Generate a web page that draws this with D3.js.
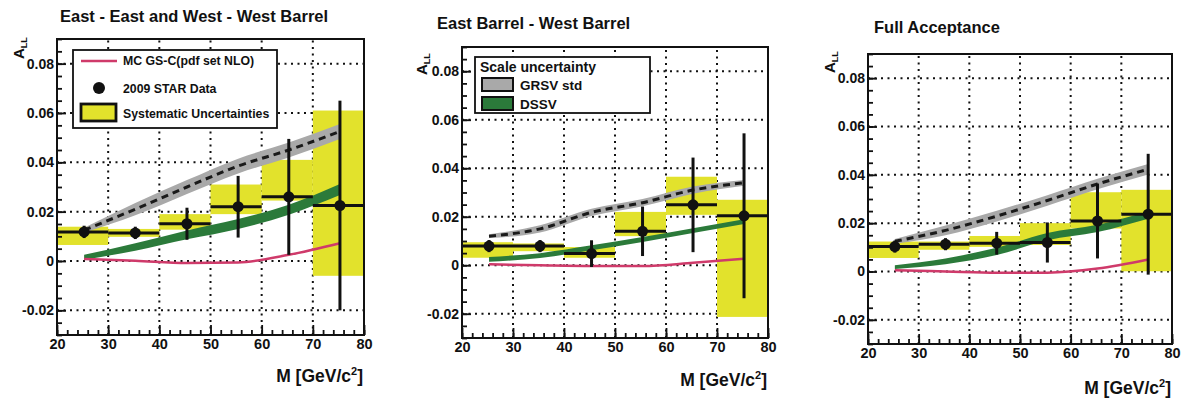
<!DOCTYPE html>
<html>
<head>
<meta charset="utf-8">
<script src="https://cdn.jsdelivr.net/npm/d3@7"></script>
<style>
  html, body { margin: 0; padding: 0; background: #fff; }
  svg { display: block; font-family: "Liberation Sans", Arial, Helvetica, sans-serif; font-weight: bold; }
</style>
</head>
<body>
<svg id="chart" width="1185" height="400"></svg>
<script>
// ---- mass bins (GeV/c^2) ----
const binLow  = [20, 30, 40, 50, 60, 70];
const binHigh = [30, 40, 50, 60, 70, 80];
const massPoints = [25.3, 35.3, 45.4, 55.4, 65.3, 75.3];

// ---- axis ticks ----
const xTicks = [20, 30, 40, 50, 60, 70, 80];
const xGrid = [30, 40, 50, 60, 70];
const yTicks = [-0.02, 0, 0.02, 0.04, 0.06, 0.08];
const yTickLabels = ["-0.02", "0", "0.02", "0.04", "0.06", "0.08"];
const yGrid = [-0.02, 0, 0.02, 0.04, 0.06, 0.08];

// ---- East-East and West-West barrel ----
const eewwAll = [0.0118, 0.0114, 0.0151, 0.0220, 0.0260, 0.0225];
const eewwStat = [0.0025, 0.0025, 0.0065, 0.0125, 0.0235, 0.0425];
const eewwSysLo = [0.0065, 0.0098, 0.0127, 0.0190, 0.0245, -0.0060];
const eewwSysHi = [0.0139, 0.0130, 0.0190, 0.0310, 0.0410, 0.0610];
const eewwGrsv = [0.0125, 0.0210, 0.0300, 0.0385, 0.0450, 0.0525];
const eewwGrsvUnc = [0.0010, 0.0025, 0.0028, 0.0030, 0.0030, 0.0030];
const eewwDssv = [0.0015, 0.0057, 0.0106, 0.0150, 0.0208, 0.0290];
const eewwDssvUnc = [0.0010, 0.0015, 0.0018, 0.0020, 0.0020, 0.0022];
const eewwMc = [0.0008, 0.0001, -0.0008, -0.0006, 0.0025, 0.0072];

// ---- East barrel - West barrel ----
const ewAll = [0.0079, 0.0079, 0.0048, 0.0140, 0.0249, 0.0204];
const ewStat = [0.0025, 0.0025, 0.0055, 0.0102, 0.0195, 0.0340];
const ewSysLo = [0.0031, 0.0058, 0.0031, 0.0120, 0.0208, -0.0213];
const ewSysHi = [0.0095, 0.0090, 0.0075, 0.0220, 0.0365, 0.0270];
const ewGrsv = [0.0120, 0.0150, 0.0218, 0.0258, 0.0310, 0.0340];
const ewGrsvUnc = [0.0008, 0.0015, 0.0015, 0.0015, 0.0015, 0.0012];
const ewDssv = [0.0024, 0.0040, 0.0072, 0.0106, 0.0143, 0.0180];
const ewDssvUnc = [0.0010, 0.0010, 0.0010, 0.0010, 0.0010, 0.0010];
const ewMc = [0.0004, 0.0000, -0.0003, -0.0003, 0.0010, 0.0027];

// ---- Full acceptance ----
const fullAll = [0.0103, 0.0113, 0.0117, 0.0120, 0.0209, 0.0237];
const fullStat = [0.0025, 0.0025, 0.0047, 0.0083, 0.0155, 0.0250];
const fullSysLo = [0.0056, 0.0090, 0.0102, 0.0110, 0.0178, 0.0001];
const fullSysHi = [0.0124, 0.0124, 0.0147, 0.0200, 0.0328, 0.0338];
const fullGrsv = [0.0125, 0.0170, 0.0229, 0.0294, 0.0362, 0.0423];
const fullGrsvUnc = [0.0010, 0.0020, 0.0022, 0.0022, 0.0022, 0.0022];
const fullDssv = [0.0018, 0.0042, 0.0083, 0.0144, 0.0178, 0.0233];
const fullDssvUnc = [0.0008, 0.0012, 0.0015, 0.0015, 0.0015, 0.0015];
const fullMc = [0.0005, 0.0000, -0.0005, -0.0005, 0.0012, 0.0050];

// ---- colours ----
const colSys = "#e2e22c";
const colGrsv = "#a9a9a9";
const colDssv = "#2b7a3a";
const colMc = "#cf3a6a";

const panels = [
  { title: "East - East and West - West Barrel", titleX: 60, titleY: 22,
    box: { l: 57, r: 364, t: 39, b: 335 }, allY: 59, allX: 24,
    data: { a: eewwAll, stat: eewwStat, lo: eewwSysLo, hi: eewwSysHi,
            grsv: eewwGrsv, grsvU: eewwGrsvUnc, dssv: eewwDssv, dssvU: eewwDssvUnc, mc: eewwMc },
    legend: "data" },
  { title: "East Barrel - West Barrel", titleX: 437, titleY: 29,
    box: { l: 462, r: 768, t: 47, b: 338 }, allY: 75, allX: 427,
    data: { a: ewAll, stat: ewStat, lo: ewSysLo, hi: ewSysHi,
            grsv: ewGrsv, grsvU: ewGrsvUnc, dssv: ewDssv, dssvU: ewDssvUnc, mc: ewMc },
    legend: "theory" },
  { title: "Full Acceptance", titleX: 874, titleY: 33,
    box: { l: 868, r: 1172, t: 54, b: 344 }, allY: 73, allX: 835,
    data: { a: fullAll, stat: fullStat, lo: fullSysLo, hi: fullSysHi,
            grsv: fullGrsv, grsvU: fullGrsvUnc, dssv: fullDssv, dssvU: fullDssvUnc, mc: fullMc },
    legend: null }
];

const svg = d3.select("#chart");
const labelFont = "Liberation Sans, Arial, sans-serif";

panels.forEach(p => {
  const g = svg.append("g");
  const x = d3.scaleLinear().domain([20, 80]).range([p.box.l, p.box.r]);
  const y = d3.scaleLinear().domain([-0.03, 0.09]).range([p.box.b, p.box.t]);
  const d = p.data;
  const idx = d3.range(massPoints.length);

  // title
  g.append("text").attr("x", p.titleX).attr("y", p.titleY)
    .attr("font-size", 16.5).attr("fill", "#111").text(p.title);

  // dotted grid
  const grid = g.append("g").attr("stroke", "#111").attr("stroke-width", 2)
    .attr("stroke-dasharray", "2,4.5");
  grid.selectAll("line.gx").data(xGrid).join("line")
    .attr("x1", v => x(v)).attr("x2", v => x(v))
    .attr("y1", p.box.b).attr("y2", p.box.t);
  grid.selectAll("line.gy").data(yGrid).join("line")
    .attr("x1", p.box.l).attr("x2", p.box.r)
    .attr("y1", v => y(v)).attr("y2", v => y(v));

  // systematic uncertainty boxes
  g.append("g").selectAll("rect").data(idx).join("rect")
    .attr("x", i => x(binLow[i])).attr("width", i => x(binHigh[i]) - x(binLow[i]))
    .attr("y", i => y(d.hi[i])).attr("height", i => y(d.lo[i]) - y(d.hi[i]))
    .attr("fill", colSys);

  // theory bands
  const band = (c, u) => d3.area().curve(d3.curveMonotoneX)
    .x(i => x(massPoints[i])).y0(i => y(c[i] - u[i])).y1(i => y(c[i] + u[i]));
  const line = c => d3.line().curve(d3.curveMonotoneX)
    .x(i => x(massPoints[i])).y(i => y(c[i]));

  g.append("path").attr("d", band(d.grsv, d.grsvU)(idx)).attr("fill", colGrsv);
  g.append("path").attr("d", line(d.grsv)(idx)).attr("fill", "none")
    .attr("stroke", "#1a1a1a").attr("stroke-width", 3).attr("stroke-dasharray", "7,5");
  g.append("path").attr("d", band(d.dssv, d.dssvU)(idx)).attr("fill", colDssv);
  g.append("path").attr("d", line(d.mc)(idx)).attr("fill", "none")
    .attr("stroke", colMc).attr("stroke-width", 2.5);

  // data: horizontal bin bars, vertical stat bars, markers
  const pts = g.append("g").attr("stroke", "#111").attr("stroke-width", 3);
  pts.selectAll("line.h").data(idx).join("line")
    .attr("x1", i => x(binLow[i])).attr("x2", i => x(binHigh[i]))
    .attr("y1", i => y(d.a[i])).attr("y2", i => y(d.a[i]));
  pts.selectAll("line.v").data(idx).join("line")
    .attr("x1", i => x(massPoints[i])).attr("x2", i => x(massPoints[i]))
    .attr("y1", i => y(d.a[i] - d.stat[i])).attr("y2", i => y(d.a[i] + d.stat[i]));
  g.append("g").selectAll("circle").data(idx).join("circle")
    .attr("cx", i => x(massPoints[i])).attr("cy", i => y(d.a[i]))
    .attr("r", 5.5).attr("fill", "#111");

  // axes with inward ticks
  const yMinor = d3.range(-0.03, 0.0901, 0.005).map(v => +v.toFixed(3));
  const xMinor = d3.range(20, 80.1, 2);
  g.append("g").attr("transform", `translate(${p.box.l},0)`)
    .call(d3.axisLeft(y).tickValues(yMinor).tickSize(-5).tickFormat(""))
    .call(a => a.select(".domain").remove())
    .call(a => a.selectAll("line").attr("stroke", "#111").attr("stroke-width", 1.8));
  g.append("g").attr("transform", `translate(${p.box.l},0)`)
    .call(d3.axisLeft(y).tickValues(yTicks).tickSize(-9).tickPadding(3)
      .tickFormat((v, i) => yTickLabels[i]))
    .call(a => a.select(".domain").remove())
    .call(a => a.selectAll("line").attr("stroke", "#111").attr("stroke-width", 1.8))
    .call(a => a.selectAll("text").attr("font-size", 14).attr("font-weight", "bold")
      .attr("fill", "#111").attr("font-family", labelFont));
  g.append("g").attr("transform", `translate(0,${p.box.b})`)
    .call(d3.axisBottom(x).tickValues(xMinor).tickSize(-5).tickFormat(""))
    .call(a => a.select(".domain").remove())
    .call(a => a.selectAll("line").attr("stroke", "#111").attr("stroke-width", 1.8));
  g.append("g").attr("transform", `translate(0,${p.box.b})`)
    .call(d3.axisBottom(x).tickValues(xTicks).tickSize(-10).tickPadding(4).tickFormat(d3.format("d")))
    .call(a => a.select(".domain").remove())
    .call(a => a.selectAll("line").attr("stroke", "#111").attr("stroke-width", 1.8))
    .call(a => a.selectAll("text").attr("font-size", 14.5).attr("font-weight", "bold")
      .attr("fill", "#111").attr("font-family", labelFont));

  // legends
  if (p.legend === "data") {
    const L = g.append("g");
    L.append("rect").attr("x", 73).attr("y", 50).attr("width", 204).attr("height", 78)
      .attr("fill", "#fff").attr("stroke", "#111").attr("stroke-width", 1.8);
    L.append("line").attr("x1", 81).attr("x2", 117).attr("y1", 61).attr("y2", 61)
      .attr("stroke", colMc).attr("stroke-width", 2.5);
    L.append("circle").attr("cx", 99).attr("cy", 88).attr("r", 6).attr("fill", "#111");
    L.append("rect").attr("x", 81).attr("y", 104).attr("width", 35).attr("height", 17)
      .attr("fill", colSys).attr("stroke", "#111").attr("stroke-width", 2.8);
    const lt = [["MC GS-C(pdf set NLO)", 65], ["2009 STAR Data", 92.5], ["Systematic Uncertainties", 117.5]];
    lt.forEach(([t, yy]) => L.append("text").attr("x", 123).attr("y", yy)
      .attr("font-size", 12.3).attr("fill", "#111").text(t));
  } else if (p.legend === "theory") {
    const L = g.append("g");
    L.append("rect").attr("x", 475).attr("y", 57).attr("width", 175).attr("height", 56)
      .attr("fill", "#fff").attr("stroke", "#111").attr("stroke-width", 1.8);
    L.append("text").attr("x", 480).attr("y", 72).attr("font-size", 14)
      .attr("fill", "#111").text("Scale uncertainty");
    L.append("rect").attr("x", 482).attr("y", 78).attr("width", 31).attr("height", 13)
      .attr("fill", colGrsv).attr("stroke", "#111").attr("stroke-width", 2);
    L.append("rect").attr("x", 482).attr("y", 97).attr("width", 31).attr("height", 13)
      .attr("fill", colDssv).attr("stroke", "#111").attr("stroke-width", 2);
    L.append("text").attr("x", 520).attr("y", 90).attr("font-size", 13.5)
      .attr("fill", "#111").text("GRSV std");
    L.append("text").attr("x", 520).attr("y", 109).attr("font-size", 13.5)
      .attr("fill", "#111").text("DSSV");
  }

  // frame
  g.append("rect").attr("x", p.box.l).attr("y", p.box.t)
    .attr("width", p.box.r - p.box.l).attr("height", p.box.b - p.box.t)
    .attr("fill", "none").attr("stroke", "#111").attr("stroke-width", 2);

  // axis titles
  const at = g.append("text").attr("transform", `translate(${p.allX},${p.allY}) rotate(-90)`)
    .attr("font-size", 15).attr("fill", "#111");
  at.append("tspan").text("A");
  at.append("tspan").attr("font-size", 9).attr("dy", 3).text("LL");

  const xt = g.append("text").attr("x", p.box.r - 1).attr("y", p.box.b + 47 + (p.box.b - 335) * 0.3)
    .attr("text-anchor", "end").attr("font-size", 17.5).attr("fill", "#111");
  xt.append("tspan").text("M [GeV/c");
  xt.append("tspan").attr("font-size", 11).attr("dy", -7).text("2");
  xt.append("tspan").attr("dy", 7).text("]");
});
</script>
</body>
</html>
